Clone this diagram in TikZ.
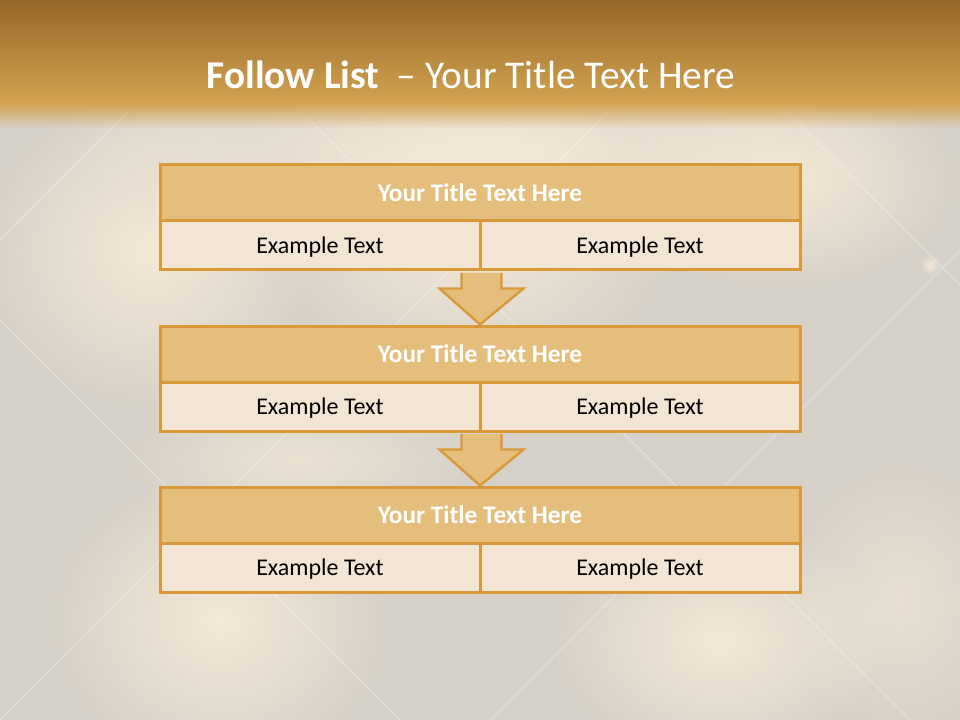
\documentclass[tikz,border=0pt]{standalone}
\usepackage{fontspec}
\setmainfont{Carlito}
\definecolor{FlowGoldDark}{RGB}{150,104,38}
\definecolor{FlowGoldMid}{RGB}{212,163,82}
\definecolor{FlowBase}{RGB}{214,209,200}
\definecolor{FlowLight}{RGB}{244,233,214}
\definecolor{FlowLine}{RGB}{217,153,56}
\definecolor{FlowHead}{RGB}{229,190,124}
\definecolor{FlowCell}{RGB}{243,229,211}
\usetikzlibrary{
    calc,
    fadings,
}
\tikzfading[name=softspot, inner color=transparent!0, outer color=transparent!100]
\tikzfading[name=fadedown, top color=transparent!0, bottom color=transparent!100]

\begin{document}
\begin{tikzpicture}[
    x=0.75pt, y=-0.75pt,
    head/.style={rectangle, draw=FlowLine, fill=FlowHead, line width=2.25pt, minimum width=480pt, minimum height=42pt, inner sep=0pt, font=\fontsize{19}{23}\selectfont\bfseries, text=white},
    cell/.style={rectangle, draw=FlowLine, fill=FlowCell, line width=2.25pt, minimum width=240pt, minimum height=36.75pt, inner sep=0pt, text depth=0pt, font=\fontsize{18}{22}\selectfont, text=black},
    flowarr/.style={draw=FlowLine, fill=FlowHead, line width=1.8pt, line join=miter},
    seam/.style={white, opacity=0.3, line width=0.8pt},
    glow/.style={FlowLight, path fading=softspot}
]
    \useasboundingbox (0,0) rectangle (960,720);
    \clip (0,0) rectangle (960,720);
    % quilted backdrop
    \fill[FlowBase] (0,0) rectangle (960,720);
    \fill[glow] (480,150) ellipse (420 and 90);
    \fill[glow] (150,250) ellipse (170 and 160);
    \fill[glow] (470,230) ellipse (210 and 150);
    \fill[glow] (780,180) ellipse (180 and 110);
    \fill[glow] (220,620) ellipse (170 and 150);
    \fill[glow] (720,640) ellipse (170 and 120);
    \fill[glow, fill opacity=0.7] (300,460) ellipse (180 and 70);
    \fill[glow, fill opacity=0.6] (900,600) ellipse (120 and 140);
    \draw[seam] (240,0) -- (0,240);
    \draw[seam] (720,0) -- (0,720);
    \draw[seam] (960,250) -- (490,720);
    \draw[seam] (0,320) -- (400,720);
    \draw[seam] (190,0) -- (910,720);
    \draw[seam] (675,0) -- (960,285);
    \fill[glow] (930,265) circle (10);

    % title bar
    \shade[top color=FlowGoldDark, bottom color=FlowGoldMid] (0,0) rectangle (960,104);
    \fill[FlowGoldMid, path fading=fadedown] (0,103) rectangle (960,128);
    \node[anchor=base, font=\fontsize{29.5}{35}\selectfont, text=white] (title) at (471,88.5) {\textbf{Follow List}\ \ – Your Title Text Here};

    % blocks
    \foreach \i/\y in {1/165, 2/326, 3/487} {
        \node[head] (h\i) at (480,\y+28) {Your Title Text Here};
        \node[cell] (cl\i) at (320,\y+80.5) {Example Text};
        \node[cell] (cr\i) at (640,\y+80.5) {Example Text};
    }

    % arrows between blocks
    \foreach \a/\b in {1/2, 2/3} {
        \draw[flowarr] ($(cl\a.south east)+(-20,1.5)$) -- ($(cl\a.south east)+(-20,17)$) -- ($(cl\a.south east)+(-42,17)$) -- (h\b.north) -- ($(cl\a.south east)+(42,17)$) -- ($(cl\a.south east)+(20,17)$) -- ($(cl\a.south east)+(20,1.5)$);
    }
\end{tikzpicture}
\end{document}
